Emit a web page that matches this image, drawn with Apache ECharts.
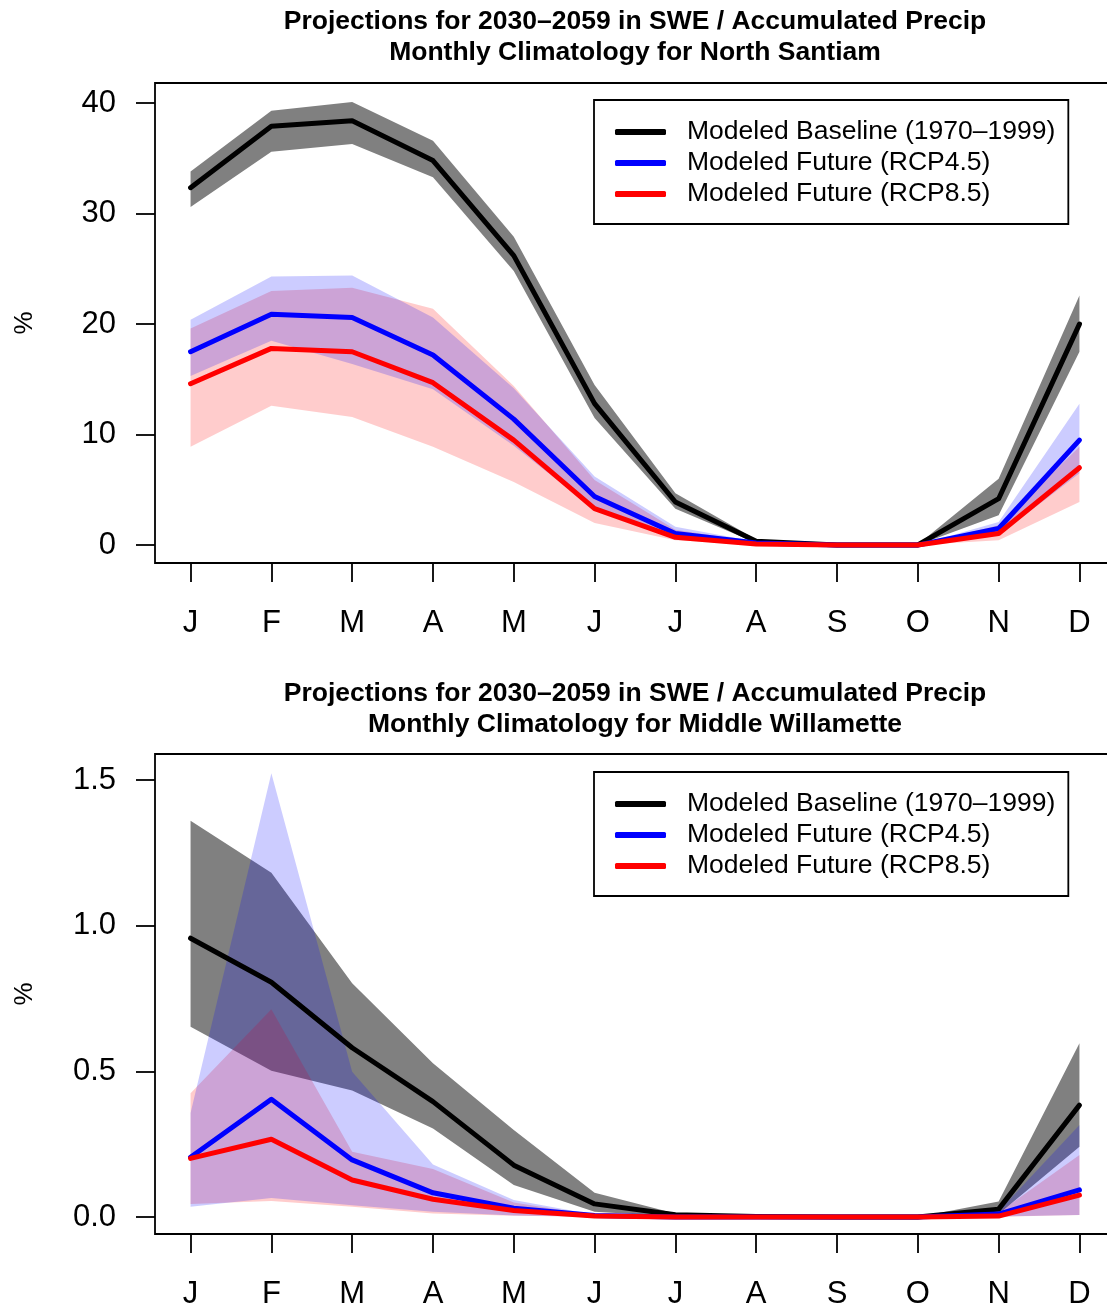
<!DOCTYPE html>
<html>
<head>
<meta charset="utf-8">
<script src="https://cdn.jsdelivr.net/npm/echarts@6/dist/echarts.min.js"></script>
<style>
  html, body { margin: 0; padding: 0; background: #fff; }
  #chart { width: 1107px; height: 1307px; }
</style>
</head>
<body>
<div id="chart"></div>
<script>
// ---------- data ----------
const monthLabels = ['J','F','M','A','M','J','J','A','S','O','N','D'];
const monthIdx = [0,1,2,3,4,5,6,7,8,9,10,11];

// North Santiam (top panel)
const nsBase   = [32.35, 37.9, 38.4, 34.8, 26.2, 12.8, 3.9, 0.35, 0.02, 0.02, 4.2, 20.0];
const nsBaseHi = [33.8, 39.3, 40.1, 36.6, 27.9, 14.5, 4.7, 0.5, 0.05, 0.05, 6.0, 22.6];
const nsBaseLo = [30.6, 35.6, 36.3, 33.3, 24.8, 11.5, 3.3, 0.2, 0.0, 0.0, 2.7, 17.5];
const nsR45    = [17.5, 20.9, 20.6, 17.2, 11.4, 4.4, 1.05, 0.2, 0.0, 0.0, 1.5, 9.5];
const nsR45Hi  = [20.4, 24.3, 24.4, 20.6, 14.2, 6.2, 1.65, 0.3, 0.0, 0.0, 2.1, 12.8];
const nsR45Lo  = [15.3, 18.5, 16.4, 14.1, 9.0, 3.2, 0.6, 0.1, 0.0, 0.0, 0.9, 6.5];
const nsR85    = [14.6, 17.8, 17.5, 14.7, 9.5, 3.3, 0.7, 0.1, 0.0, 0.0, 1.05, 7.0];
const nsR85Hi  = [19.6, 23.0, 23.3, 21.4, 14.4, 5.9, 1.4, 0.25, 0.0, 0.0, 1.8, 8.9];
const nsR85Lo  = [8.9, 12.6, 11.6, 8.9, 5.7, 2.0, 0.45, 0.05, 0.0, 0.0, 0.45, 3.9];
const nsYTicks = [0, 10, 20, 30, 40];

// Middle Willamette (bottom panel)
const mwBase   = [0.957, 0.806, 0.581, 0.396, 0.178, 0.045, 0.008, 0.002, 0.0, 0.0, 0.027, 0.384];
const mwBaseHi = [1.36, 1.182, 0.802, 0.528, 0.299, 0.083, 0.012, 0.003, 0.0, 0.0, 0.053, 0.596];
const mwBaseLo = [0.653, 0.502, 0.434, 0.304, 0.11, 0.018, 0.002, 0.0, 0.0, 0.0, 0.01, 0.241];
const mwR45    = [0.205, 0.404, 0.196, 0.083, 0.03, 0.005, 0.0, 0.0, 0.0, 0.0, 0.01, 0.093];
const mwR45Hi  = [0.357, 1.523, 0.499, 0.18, 0.058, 0.008, 0.001, 0.0, 0.0, 0.0, 0.02, 0.316];
const mwR45Lo  = [0.035, 0.065, 0.04, 0.018, 0.005, 0.001, 0.0, 0.0, 0.0, 0.0, 0.002, 0.007];
const mwR85    = [0.201, 0.267, 0.127, 0.061, 0.022, 0.003, 0.0, 0.0, 0.0, 0.0, 0.003, 0.075];
const mwR85Hi  = [0.425, 0.713, 0.224, 0.165, 0.05, 0.006, 0.0, 0.0, 0.0, 0.0, 0.015, 0.213];
const mwR85Lo  = [0.045, 0.055, 0.035, 0.012, 0.004, 0.001, 0.0, 0.0, 0.0, 0.0, 0.001, 0.007];
const mwYTicks = [0, 0.5, 1.0, 1.5];

const titleLine1 = 'Projections for 2030\u20132059 in SWE / Accumulated Precip';
const nsTitle2 = 'Monthly Climatology for North Santiam';
const mwTitle2 = 'Monthly Climatology for Middle Willamette';
const nameBase = 'Modeled Baseline (1970\u20131999)';
const nameR45 = 'Modeled Future (RCP4.5)';
const nameR85 = 'Modeled Future (RCP8.5)';

// ---------- helpers ----------
const FONT = '"Liberation Sans", Arial, Helvetica, sans-serif';
const pts = arr => monthIdx.map((m, i) => [m, arr[i]]);

function band(idx, lo, hi, color, z) {
  return {
    type: 'custom', xAxisIndex: idx, yAxisIndex: idx, silent: true, clip: true, z: z,
    data: monthIdx.map((m, i) => [m, lo[i], hi[i]]),
    encode: { x: 0, y: [1, 2] },
    renderItem: function (params, api) {
      if (params.dataIndexInside !== 0) return null;
      const n = params.dataInsideLength;
      const top = [], bot = [];
      for (let i = 0; i < n; i++) {
        const x = api.value(0, i);
        top.push(api.coord([x, api.value(2, i)]));
        bot.push(api.coord([x, api.value(1, i)]));
      }
      return { type: 'polygon', shape: { points: top.concat(bot.reverse()) },
               style: { fill: color, stroke: null } };
    }
  };
}
function mainLine(idx, name, arr, color, z) {
  return { type: 'line', name: name, xAxisIndex: idx, yAxisIndex: idx, data: pts(arr),
    showSymbol: false, symbol: 'none', silent: true,
    lineStyle: { color: color, width: 5, cap: 'round', join: 'round' },
    itemStyle: { color: color }, z: z };
}

const xAxisCommon = {
  type: 'value', min: -0.44, max: 11.44,
  axisLine: { show: false, onZero: false },
  splitLine: { show: false },
  axisTick: { show: true, length: 19, customValues: monthIdx, lineStyle: { color: '#000', width: 1.8 } },
  axisLabel: { show: true, customValues: monthIdx, margin: 45, fontSize: 31, color: '#000', fontFamily: FONT,
    formatter: v => monthLabels[Math.round(v)] }
};
function yAxisFor(idx, min, max, ticks, fmt) {
  return {
    type: 'value', gridIndex: idx, min: min, max: max,
    name: '%', nameLocation: 'middle', nameGap: 117, nameRotate: 90,
    nameTextStyle: { fontSize: 26, color: '#000', fontFamily: FONT },
    axisLine: { show: false, onZero: false },
    splitLine: { show: false },
    axisTick: { show: true, length: 19, customValues: ticks, lineStyle: { color: '#000', width: 1.8 } },
    axisLabel: { show: true, customValues: ticks, margin: 39, fontSize: 31, color: '#000', fontFamily: FONT,
      formatter: fmt }
  };
}
function legendFor(top) {
  return {
    orient: 'vertical', left: 594, top: top,
    data: [nameBase, nameR45, nameR85],
    icon: 'roundRect', itemWidth: 51, itemHeight: 6, itemGap: 0,
    padding: [16.5, 13, 14.5, 21],
    borderColor: '#000', borderWidth: 1.8, backgroundColor: '#fff',
    selectedMode: false,
    textStyle: { fontSize: 26.5, lineHeight: 31, color: '#000', fontFamily: FONT, padding: [0, 0, 0, 16] }
  };
}
function titleFor(top, line2) {
  return {
    text: titleLine1 + '\n' + line2, left: 635, top: top, textAlign: 'center', padding: 0,
    textStyle: { fontSize: 26.5, fontWeight: 'bold', lineHeight: 31, color: '#000', fontFamily: FONT }
  };
}

const series = [
  band(0, nsBaseLo, nsBaseHi, '#808080', 1),
  band(0, nsR85Lo, nsR85Hi, 'rgba(255,0,0,0.2)', 2),
  band(0, nsR45Lo, nsR45Hi, 'rgba(0,0,255,0.2)', 3),
  mainLine(0, nameBase, nsBase, '#000000', 4),
  mainLine(0, nameR45, nsR45, '#0000FF', 5),
  mainLine(0, nameR85, nsR85, '#FF0000', 6),
  band(1, mwBaseLo, mwBaseHi, '#808080', 1),
  band(1, mwR85Lo, mwR85Hi, 'rgba(255,0,0,0.2)', 2),
  band(1, mwR45Lo, mwR45Hi, 'rgba(0,0,255,0.2)', 3),
  mainLine(1, nameBase, mwBase, '#000000', 4),
  mainLine(1, nameR45, mwR45, '#0000FF', 5),
  mainLine(1, nameR85, mwR85, '#FF0000', 6)
];

const gridCommon = { left: 155, width: 960, height: 480, show: true, borderColor: '#000', borderWidth: 1.8,
  backgroundColor: 'transparent', containLabel: false, outerBoundsMode: 'none' };

const chart = echarts.init(document.getElementById('chart'), null, { renderer: 'canvas' });
chart.setOption({
  animation: false,
  backgroundColor: '#fff',
  title: [titleFor(6.5, nsTitle2), titleFor(678.5, mwTitle2)],
  legend: [legendFor(100), legendFor(772)],
  grid: [
    Object.assign({ top: 83 }, gridCommon),
    Object.assign({ top: 754 }, gridCommon)
  ],
  xAxis: [
    Object.assign({ gridIndex: 0 }, xAxisCommon),
    Object.assign({ gridIndex: 1 }, xAxisCommon)
  ],
  yAxis: [
    yAxisFor(0, -1.62, 41.82, nsYTicks, v => String(v)),
    yAxisFor(1, -0.0584, 1.5894, mwYTicks, v => v.toFixed(1))
  ],
  series: series
});
</script>
</body>
</html>
